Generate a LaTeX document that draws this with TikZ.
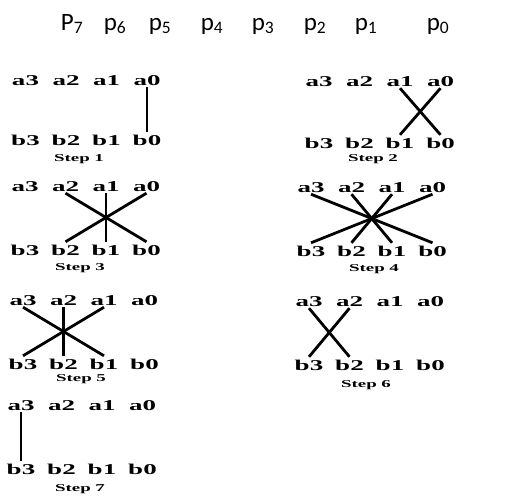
\documentclass[tikz,border=0pt]{standalone}
\usepackage{fontspec}
\setmainfont{Carlito}
\newfontfamily\bitfont{Liberation Serif}[FakeStretch=1.8]
\usetikzlibrary{positioning}

\begin{document}
\begin{tikzpicture}[
    x=1pt, y=-1pt,
    head/.style={anchor=base, inner sep=0, font=\fontsize{25}{25}\selectfont},
    topbit/.style={inner xsep=0, inner ysep=1.5pt, text height=9pt, text depth=0pt, font=\bitfont\bfseries\fontsize{15}{15}\selectfont},
    botbit/.style={topbit, inner ysep=4.5pt},
    steplabel/.style={inner sep=0, font=\bitfont\bfseries\fontsize{10.5}{11}\selectfont},
    wire/.style={line width=2.8pt}
  ]
    \useasboundingbox (0,0) rectangle (513,496);
    % product bits
    \node[head] (p7) at (72,30) {P\textsubscript{7}};
    \node[head] (p6) at (115,30) {p\textsubscript{6}};
    \node[head] (p5) at (160,30) {p\textsubscript{5}};
    \node[head] (p4) at (212,30) {p\textsubscript{4}};
    \node[head] (p3) at (263,30) {p\textsubscript{3}};
    \node[head] (p2) at (315,30) {p\textsubscript{2}};
    \node[head] (p1) at (366,30) {p\textsubscript{1}};
    \node[head] (p0) at (438,30) {p\textsubscript{0}};
    % one block per step: a row, b row, label
    \foreach \s/\ax/\ay/\by/\lx/\ly in {1/25.5/81/141/79/159, 2/319/82/144/373/159,
        3/25/187/251/80/268, 4/311/188/252/374/269, 5/23/301/365/81/379,
        6/309/302/366/366/385, 7/21/406/470/80/489} {
      \foreach \i [count=\c] in {3,2,1,0} {
        \pgfmathsetmacro\bx{\ax+40.5*(\c-1)}
        \node[topbit] (s\s-a\i) at (\bx,\ay) {a\i};
        \node[botbit] (s\s-b\i) at (\bx,\by) {b\i};
      }
      \node[steplabel] (s\s-step) at (\lx,\ly) {Step \s};
    }
    % cross products
    \foreach \s/\i/\j in {1/0/0, 2/1/0, 2/0/1, 3/2/0, 3/1/1, 3/0/2,
        4/3/0, 4/2/1, 4/1/2, 4/0/3, 5/3/1, 5/2/2, 5/1/3, 6/3/2, 6/2/3, 7/3/3}
      \draw[wire] (s\s-a\i.south) -- (s\s-b\j.north);
  \end{tikzpicture}
\end{document}
